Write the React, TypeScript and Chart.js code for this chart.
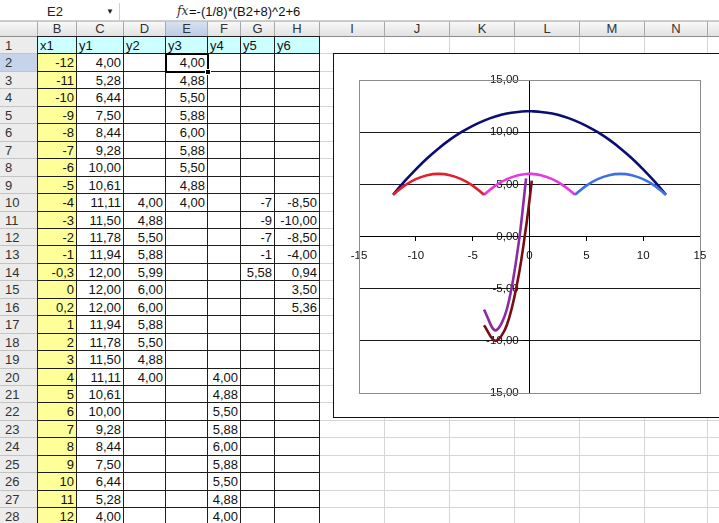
import React, { useEffect, useRef } from "react";
import { Chart, registerables } from "chart.js";
Chart.register(...registerables);

// ---- data (spreadsheet columns B..H, rows 2..28) ----
const x1 = [-12, -11, -10, -9, -8, -7, -6, -5, -4, -3, -2, -1, -0.3, 0, 0.2, 1, 2, 3, 4, 5, 6, 7, 8, 9, 10, 11, 12];
const y1 = [4.0, 5.28, 6.44, 7.5, 8.44, 9.28, 10.0, 10.61, 11.11, 11.5, 11.78, 11.94, 12.0, 12.0, 12.0, 11.94, 11.78, 11.5, 11.11, 10.61, 10.0, 9.28, 8.44, 7.5, 6.44, 5.28, 4.0];
const y2 = [null, null, null, null, null, null, null, null, 4.0, 4.88, 5.5, 5.88, 5.99, 6.0, 6.0, 5.88, 5.5, 4.88, 4.0, null, null, null, null, null, null, null, null];
const y3 = [4.0, 4.88, 5.5, 5.88, 6.0, 5.88, 5.5, 4.88, 4.0, null, null, null, null, null, null, null, null, null, null, null, null, null, null, null, null, null, null];
const y4 = [null, null, null, null, null, null, null, null, null, null, null, null, null, null, null, null, null, null, 4.0, 4.88, 5.5, 5.88, 6.0, 5.88, 5.5, 4.88, 4.0];
const y5 = [null, null, null, null, null, null, null, null, -7, -9, -7, -1, 5.58, null, null, null, null, null, null, null, null, null, null, null, null, null, null];
const y6 = [null, null, null, null, null, null, null, null, -8.5, -10, -8.5, -4, 0.94, 3.5, 5.36, null, null, null, null, null, null, null, null, null, null, null, null];

const headerNames = ["x1", "y1", "y2", "y3", "y4", "y5", "y6"];
const colLetters = ["", "B", "C", "D", "E", "F", "G", "H", "I", "J", "K", "L", "M", "N", "O"];
const axisTicks = [-15, -10, -5, 0, 5, 10, 15];
const formulaText = "=-(1/8)*(B2+8)^2+6";
const nameBoxText = "E2";

// ---- layout ----
const COL_EDGES = [0, 38, 77, 124, 166, 208, 241, 275, 320, 385, 450, 515, 580, 645, 708, 773];
const HEADER_TOP = 21;
const ROW1_TOP = 37;
const ROW_H = 17.45;
const rowTop = (r: number) => Math.round(ROW1_TOP + (r - 1) * ROW_H);

const FONT = "'Liberation Sans', Arial, sans-serif";

const fmt2 = (v: number | null) => (v === null ? "" : v.toFixed(2).replace(".", ","));
const fmtGen = (v: number | null) => (v === null ? "" : String(v).replace(".", ","));

function pairs(ys: (number | null)[]) {
  const out: { x: number; y: number }[] = [];
  ys.forEach((y, i) => {
    if (y !== null) out.push({ x: x1[i], y });
  });
  return out;
}

const plotBorder = {
  id: "plotBorder",
  beforeDatasetsDraw(chart: any) {
    const { ctx, chartArea: a } = chart;
    ctx.save();
    ctx.strokeStyle = "#8c8c8c";
    ctx.lineWidth = 1;
    ctx.strokeRect(Math.round(a.left) + 0.5, Math.round(a.top) + 0.5, Math.round(a.right - a.left), Math.round(a.bottom - a.top));
    ctx.restore();
  },
};

function ChartBox() {
  const ref = useRef<HTMLCanvasElement | null>(null);
  useEffect(() => {
    if (!ref.current) return;
    const font = { family: FONT, size: 11.5 };
    const yLabel = (v: any) => Number(v).toFixed(2).replace(".", ",");
    const mk = (label: string, ys: (number | null)[], color: string) => ({
      label,
      data: pairs(ys),
      showLine: true,
      borderColor: color,
      backgroundColor: color,
      borderWidth: 2.6,
      pointRadius: 0,
      tension: 0.35,
      fill: false,
    });
    const chart = new Chart(ref.current, {
      type: "scatter",
      data: {
        datasets: [
          mk("y6", y6, "#7a0c16"),
          mk("y5", y5, "#8a2aa4"),
          mk("y4", y4, "#3f6fe0"),
          mk("y3", y3, "#e0202c"),
          mk("y2", y2, "#e838e0"),
          mk("y1", y1, "#0c0c74"),
        ],
      },
      options: {
        animation: false,
        responsive: false,
        events: [],
        layout: { padding: { left: 25, top: 26, right: 32, bottom: 24 } },
        plugins: { legend: { display: false }, tooltip: { enabled: false }, title: { display: false } },
        scales: {
          x: {
            type: "linear",
            min: -15,
            max: 15,
            position: { y: 0 } as any,
            afterBuildTicks: (s: any) => {
              s.ticks = axisTicks.map((v) => ({ value: v }));
            },
            ticks: { color: "#111", font, padding: 8, maxRotation: 0, autoSkip: false, callback: (v: any) => String(v) },
            grid: { drawOnChartArea: false, drawTicks: true, tickLength: 4, tickColor: "#000" },
            border: { display: true, color: "#000", width: 1 },
          },
          y: {
            type: "linear",
            min: -15,
            max: 15,
            position: { x: 0 } as any,
            afterBuildTicks: (s: any) => {
              s.ticks = axisTicks.map((v) => ({ value: v }));
            },
            ticks: { display: false },
            grid: {
              color: (c: any) => (c.tick && Math.abs(c.tick.value) === 15 ? "#8c8c8c" : "#1a1a1a"),
              lineWidth: 1,
              drawTicks: true,
              tickLength: 6,
              tickColor: "#000",
            },
            border: { display: true, color: "#000", width: 1 },
          },
          yLabels: {
            type: "linear",
            axis: "y",
            min: -15,
            max: 15,
            position: { x: -0.95 } as any,
            afterBuildTicks: (s: any) => {
              s.ticks = axisTicks.map((v) => ({ value: v }));
            },
            ticks: { color: "#111", font, padding: 0, callback: yLabel },
            grid: { display: false },
            border: { display: false },
          },
        },
      } as any,
      plugins: [plotBorder],
    });
    return () => chart.destroy();
  }, []);
  return (
    <div
      style={{
        position: "absolute",
        left: 333,
        top: 53,
        width: 400,
        height: 365,
        boxSizing: "border-box",
        border: "1px solid #111",
        background: "#fff",
      }}
    >
      <canvas ref={ref} width={398} height={363} style={{ display: "block", width: 398, height: 363 }} />
    </div>
  );
}

function Sheet() {
  const cells: React.ReactNode[] = [];
  // column header row
  for (let c = 0; c < colLetters.length; c++) {
    const left = COL_EDGES[c];
    const width = COL_EDGES[c + 1] - left;
    cells.push(
      <div
        key={"h" + c}
        style={{
          position: "absolute",
          left,
          top: HEADER_TOP,
          width,
          height: ROW1_TOP - HEADER_TOP,
          boxSizing: "border-box",
          background: colLetters[c] === "E" ? "linear-gradient(#d6e0f0,#bccbe4)" : "linear-gradient(#f8f8f8,#e2e2e2)",
          borderRight: "1px solid #a9a9a9",
          borderBottom: "1px solid #8d8d8d",
          borderTop: "1px solid #c8c8c8",
          textAlign: "center",
          fontSize: 13,
          lineHeight: ROW1_TOP - HEADER_TOP - 2 + "px",
          color: "#333",
        }}
      >
        {colLetters[c]}
      </div>
    );
  }
  for (let r = 1; r <= 29; r++) {
    const top = rowTop(r);
    const height = rowTop(r + 1) - top;
    // row header
    cells.push(
      <div
        key={"r" + r}
        style={{
          position: "absolute",
          left: 0,
          top,
          width: COL_EDGES[1],
          height,
          boxSizing: "border-box",
          background: r === 2 ? "#c6d3ea" : "#ececec",
          borderRight: "1px solid #9a9a9a",
          borderBottom: "1px solid #c4c4c4",
          paddingLeft: 5,
          fontSize: 13,
          lineHeight: height + "px",
          color: "#333",
        }}
      >
        {r}
      </div>
    );
    for (let c = 1; c < colLetters.length; c++) {
      const left = COL_EDGES[c];
      const width = COL_EDGES[c + 1] - left;
      const inTable = c <= 7 && r <= 28;
      let text = "";
      let align: "left" | "right" = "right";
      if (inTable) {
        if (r === 1) {
          text = headerNames[c - 1];
          align = "left";
        } else {
          const i = r - 2;
          if (c === 1) text = fmtGen(x1[i]);
          if (c === 2) text = fmt2(y1[i]);
          if (c === 3) text = fmt2(y2[i]);
          if (c === 4) text = fmt2(y3[i]);
          if (c === 5) text = fmt2(y4[i]);
          if (c === 6) text = fmtGen(y5[i]);
          if (c === 7) text = fmt2(y6[i]);
        }
      }
      let bg = "#fff";
      if (inTable && r === 1) bg = "#ccffff";
      else if (inTable && c === 1) bg = "#ffff99";
      const dark = "1px solid #1e1e1e";
      const light = "1px solid #d6d6d6";
      cells.push(
        <div
          key={"c" + r + "_" + c}
          style={{
            position: "absolute",
            left: inTable && c === 1 ? left - 1 : left,
            top: inTable && r === 1 ? top - 1 : top,
            width: inTable && c === 1 ? width + 1 : width,
            height: inTable && r === 1 ? height + 1 : height,
            boxSizing: "border-box",
            background: bg,
            borderRight: inTable ? dark : light,
            borderBottom: inTable ? dark : light,
            borderLeft: inTable && c === 1 ? dark : undefined,
            borderTop: inTable && r === 1 ? dark : undefined,
            textAlign: align,
            paddingLeft: 2,
            paddingRight: 2,
            fontSize: 13,
            lineHeight: height + "px",
            color: "#111",
            whiteSpace: "nowrap",
            overflow: "hidden",
          }}
        >
          {text}
        </div>
      );
    }
  }
  // selected cell E2
  const eL = COL_EDGES[4];
  const eR = COL_EDGES[5];
  const t2 = rowTop(2);
  const b2 = rowTop(3);
  cells.push(
    <div
      key="sel"
      style={{
        position: "absolute",
        left: eL - 1,
        top: t2 - 1,
        width: eR - eL + 2,
        height: b2 - t2 + 2,
        boxSizing: "border-box",
        border: "2px solid #000",
      }}
    />
  );
  cells.push(
    <div
      key="handle"
      style={{ position: "absolute", left: eR - 3, top: b2 - 3, width: 6, height: 6, background: "#000", border: "1px solid #fff", boxSizing: "border-box" }}
    />
  );
  return <>{cells}</>;
}

function FormulaBar() {
  return (
    <div style={{ position: "absolute", left: 0, top: 3, width: 719, height: 17, background: "#fff", borderBottom: "1px solid #cfcfcf" }}>
      <div
        style={{
          position: "absolute",
          left: 0,
          top: 0,
          width: 120,
          height: 17,
          boxSizing: "border-box",
          borderRight: "1px solid #d0d0d0",
          fontSize: 13,
          lineHeight: "17px",
          color: "#222",
        }}
      >
        <span style={{ position: "absolute", left: 47 }}>{nameBoxText}</span>
        <span style={{ position: "absolute", left: 106, fontSize: 8, lineHeight: "17px" }}>▼</span>
      </div>
      <span style={{ position: "absolute", left: 177, top: 0, fontSize: 12, lineHeight: "17px", fontStyle: "italic", fontFamily: "'DejaVu Serif', serif", color: "#333" }}>
        fx
      </span>
      <span style={{ position: "absolute", left: 189, top: 0, fontSize: 13, lineHeight: "17px", color: "#111" }}>{formulaText}</span>
    </div>
  );
}

export default function App() {
  return (
    <div
      style={{
        position: "fixed",
        left: 0,
        top: 0,
        width: 719,
        height: 523,
        overflow: "hidden",
        background: "#fff",
        fontFamily: FONT,
      }}
    >
      <FormulaBar />
      <Sheet />
      <ChartBox />
    </div>
  );
}
